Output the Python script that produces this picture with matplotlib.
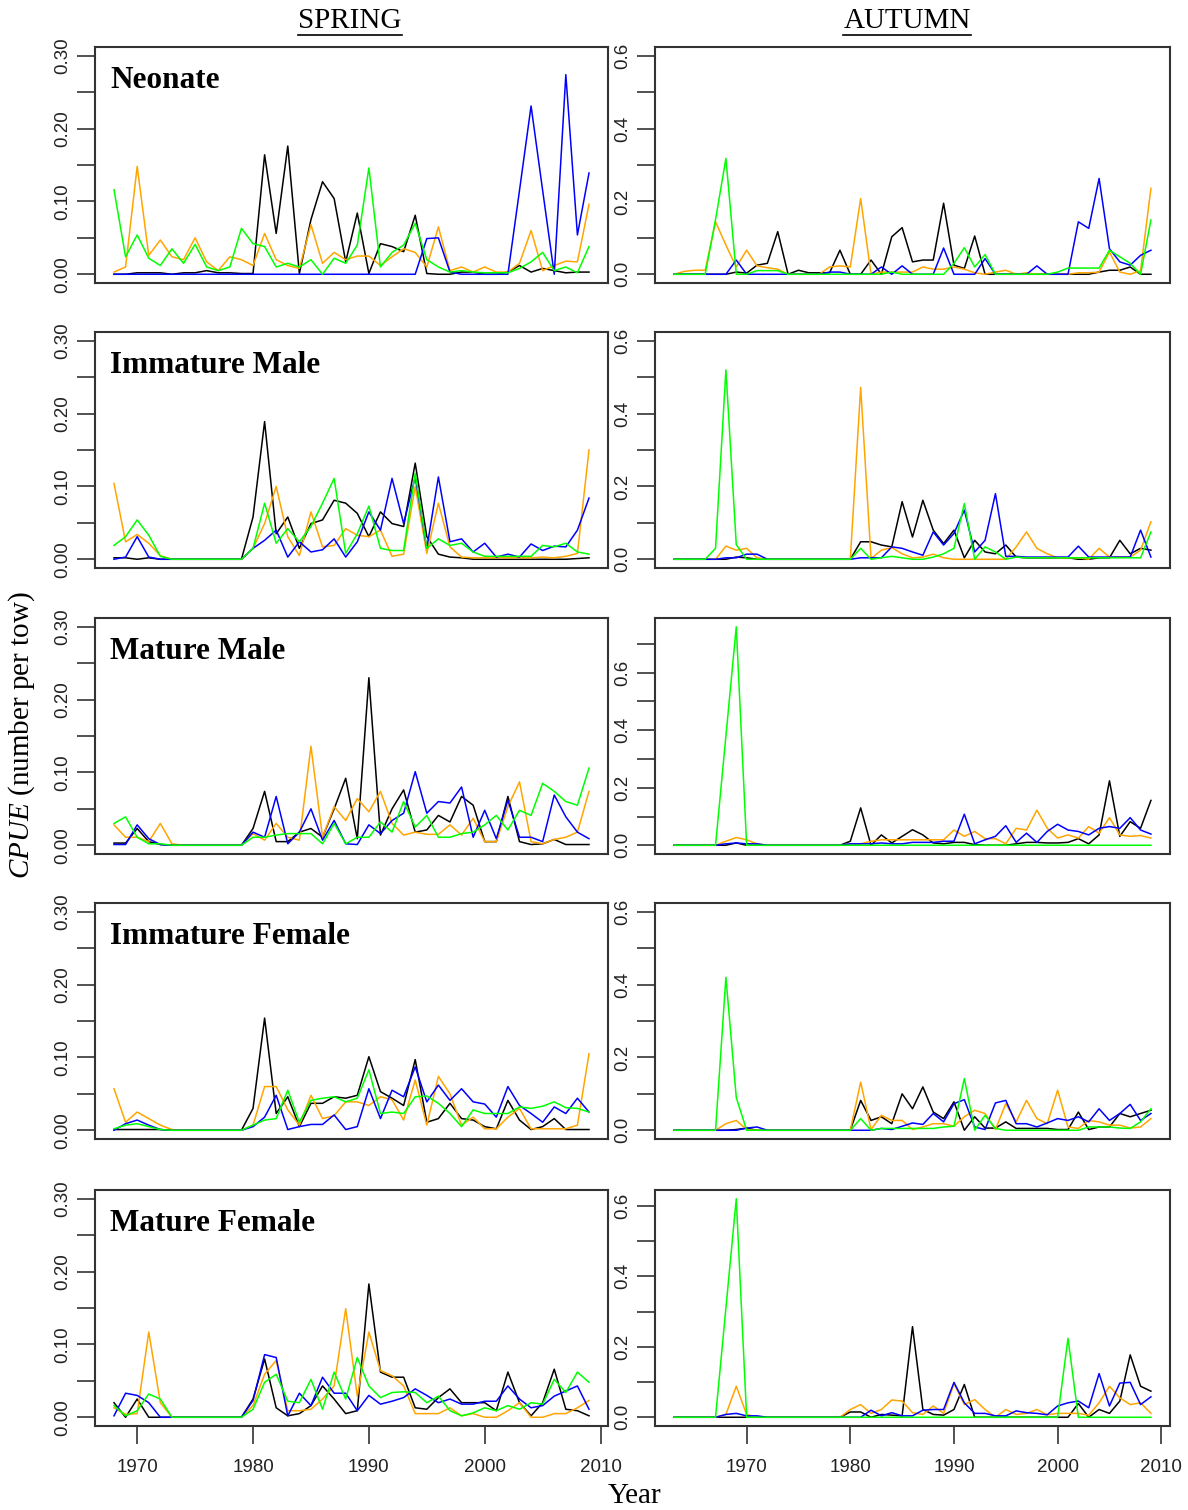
import numpy as np
import matplotlib
matplotlib.use("Agg")
import matplotlib.pyplot as plt
from matplotlib.lines import Line2D

plt.rcParams['font.family'] = ['Liberation Sans', 'DejaVu Sans']
plt.rcParams['mathtext.fontset'] = 'custom'
plt.rcParams['mathtext.it'] = 'Liberation Serif:italic'
plt.rcParams['mathtext.rm'] = 'Liberation Serif'

# survey years
spring_years = list(range(1968, 2010))
autumn_years = list(range(1963, 2010))
stages = ["Neonate", "Immature Male", "Mature Male", "Immature Female", "Mature Female"]

# ---- Neonate ----
sp_neo_black = [0, 0, .002, .002, .002, 0, .002, .002, .005, .002,
                .002, .001, .001, .164, .056, .176, .001, .075, .127, .104,
                .017, .084, .001, .042, .038, .031, .081, .001, 0, 0,
                .003, .003, 0, 0, .003, .012, .003, .008, .005, .002,
                .003, .003]
sp_neo_orange = [.003, .01, .148, .026, .047, .024, .02, .05, .017, .005,
                 .024, .02, .012, .056, .02, .012, .008, .068, .015, .03,
                 .02, .025, .025, .012, .024, .035, .03, .01, .065, .005,
                 .01, .003, .01, .003, .003, .015, .06, .005, .012, .018,
                 .017, .096]
sp_neo_blue = [0] * 26 + [0, .049, .05, .003, 0, 0, 0, 0, 0,
                          .115, .231, .115, 0, .274, .054, .139]
sp_neo_green = [.116, .024, .054, .022, .012, .035, .015, .041, .01, .005,
                .01, .063, .042, .038, .01, .015, .01, .02, 0, .022,
                .015, .04, .146, .01, .03, .04, .07, .02, .01, .003,
                .005, .003, .002, .002, .002, .008, .017, .03, .005, .01,
                .002, .038]

au_neo_black = [0, 0, 0, 0, 0, 0, .006, .003, .025, .03,
                .117, 0, .011, .004, .004, .004, .066, 0, 0, .039,
                0, .103, .128, .034, .039, .039, .195, .025, .016, .105,
                0, 0, 0, 0, 0, 0, 0, 0, 0, 0,
                0, .006, .011, .011, .02, 0, 0]
au_neo_orange = [0, .008, .011, .011, .144, .08, .02, .066, .023, .018,
                 .014, 0, 0, 0, 0, .02, .023, .02, .208, 0,
                 .006, .006, .006, .006, .02, .014, .014, .02, .014, .004,
                 0, .006, .011, 0, .004, 0, 0, 0, 0, .004,
                 .004, .006, .061, .006, 0, .01, .236]
au_neo_blue = [0, 0, 0, 0, 0, 0, .039, 0, 0, 0,
               0, 0, 0, 0, 0, .006, .006, 0, 0, 0,
               .02, 0, .023, 0, 0, 0, .072, 0, 0, 0,
               .043, 0, 0, 0, 0, .023, 0, 0, 0, .144,
               .126, .263, .07, .034, .025, .052, .066]
au_neo_green = [0, 0, 0, 0, .15, .318, 0, 0, .01, .01,
                .01, 0, 0, 0, 0, 0, 0, 0, 0, 0,
                0, .006, 0, 0, 0, 0, 0, .03, .073, .02,
                .054, 0, 0, 0, 0, 0, 0, .006, .017, .017,
                .017, .017, .066, .048, .03, 0, .149]

# ---- Immature Male ----
sp_im_black = [.002, .002, 0, .002, 0, 0, 0, 0, 0, 0,
               0, 0, .058, .189, .035, .058, .015, .049, .054, .081,
               .077, .063, .031, .065, .049, .045, .132, .031, .007, .003,
               .002, 0, 0, 0, 0, 0, 0, 0, 0, 0,
               .001, .002]
sp_im_orange = [.104, .024, .034, .022, .005, 0, 0, 0, 0, 0,
                0, 0, .015, .049, .1, .031, .005, .065, .017, .019,
                .042, .033, .031, .04, .004, .007, .1, .008, .077, .017,
                .003, .002, .002, .002, .002, .002, .002, .003, .002, .004,
                .008, .15]
sp_im_blue = [0, .003, .031, .003, 0, 0, 0, 0, 0, 0,
              0, 0, .015, .026, .04, .003, .024, .01, .013, .028,
              .003, .024, .065, .04, .111, .049, .113, .015, .113, .024,
              .028, .01, .022, .003, .007, .003, .021, .012, .018, .017,
              .04, .084]
sp_im_green = [.019, .031, .054, .033, .004, 0, 0, 0, 0, 0,
               0, 0, .015, .077, .022, .042, .024, .045, .077, .111,
               .008, .035, .073, .015, .012, .012, .118, .015, .028, .019,
               .022, .01, .004, .004, .004, .004, .004, .019, .017, .022,
               .01, .007]

au_im_black = [0, 0, 0, 0, 0, 0, .006, .004, 0, 0,
               0, 0, 0, 0, 0, 0, 0, 0, .048, .048,
               .039, .034, .158, .061, .162, .08, .043, .08, .004, .052,
               .02, .015, .039, .006, .004, .004, .004, .004, .004, 0,
               0, .004, .004, .052, .015, .03, .025]
au_im_orange = [0, 0, 0, 0, 0, .036, .025, .03, .004, 0,
                0, 0, 0, 0, 0, 0, 0, 0, .472, .002,
                .025, .032, .015, .004, .006, .014, .004, 0, 0, 0,
                0, 0, 0, .034, .075, .03, .015, .004, .004, .004,
                0, .03, .006, .006, .006, .025, .103]
au_im_blue = [0, 0, 0, 0, 0, .004, .004, .014, .014, 0,
              0, 0, 0, 0, 0, 0, 0, 0, .004, .004,
              .004, .034, .03, .02, .011, .075, .039, .071, .135, .02,
              .052, .18, .008, .008, .006, .006, .006, .006, .006, .036,
              .006, .006, .006, .006, .006, .08, .006]
au_im_green = [0, 0, 0, 0, .03, .52, .04, 0, 0, 0,
               0, 0, 0, 0, 0, 0, 0, 0, .03, 0,
               .004, .008, .004, 0, 0, .006, .015, .03, .153, 0,
               .034, .02, 0, .006, .004, .004, .004, .004, .004, .004,
               .004, .004, .004, .004, .004, .004, .075]

# ---- Mature Male ----
sp_mm_black = [.003, .003, .023, .005, .001, 0, 0, 0, 0, 0,
               0, 0, .023, .074, .005, .005, .018, .023, .011, .05,
               .092, .009, .23, .014, .05, .076, .018, .021, .041, .032,
               .067, .055, .005, .005, .067, .005, .001, .002, .008, .001,
               .001, .001]
sp_mm_orange = [.028, .011, .011, .005, .03, .002, 0, 0, 0, 0,
                0, 0, .016, .007, .03, .011, .007, .136, .011, .053,
                .034, .064, .046, .074, .03, .014, .018, .015, .015, .028,
                .014, .037, .005, .005, .053, .087, .005, .002, .008, .011,
                .018, .074]
sp_mm_blue = [.001, .001, .028, .009, .001, 0, 0, 0, 0, 0,
              0, 0, .018, .011, .067, .002, .018, .05, .007, .034,
              .002, .001, .028, .016, .034, .044, .101, .044, .06, .058,
              .08, .011, .048, .009, .062, .011, .011, .005, .069, .039,
              .018, .009]
sp_mm_green = [.03, .039, .011, .002, .002, 0, 0, 0, 0, 0,
               0, 0, .011, .011, .014, .016, .016, .016, .002, .03,
               .002, .011, .011, .032, .018, .06, .025, .041, .011, .011,
               .016, .018, .028, .041, .021, .048, .041, .085, .074, .06,
               .055, .106]

au_mm_black = [0, 0, 0, 0, 0, 0, .008, 0, 0, 0,
               0, 0, 0, 0, 0, 0, 0, .014, .13, 0,
               .036, .008, .031, .054, .036, .008, .005, .01, .01, .002,
               0, 0, 0, .005, .01, .01, .008, .008, .01, .023,
               .005, .036, .224, .031, .082, .059, .156]
au_mm_orange = [0, 0, 0, 0, 0, .014, .027, .019, .005, 0,
                0, 0, 0, 0, 0, 0, 0, .005, .005, .014,
                .019, .019, .019, .019, .019, .019, .019, .053, .031, .048,
                .023, .023, .005, .059, .053, .122, .059, .025, .036, .025,
                .065, .042, .096, .036, .031, .034, .025]
au_mm_blue = [0, 0, 0, 0, 0, .005, .008, .005, .005, 0,
              0, 0, 0, 0, 0, 0, 0, .005, .005, .005,
              .008, .005, .005, .01, .01, .01, .014, .014, .108, .005,
              .019, .031, .068, .01, .042, .01, .048, .073, .053, .048,
              .036, .059, .065, .059, .096, .053, .039]
au_mm_green = [0, 0, 0, 0, 0, .38, .76] + [0] * 40

# ---- Immature Female ----
sp_if_black = [.001, .001, .001, .001, .001, 0, 0, 0, 0, 0,
               0, 0, .03, .154, .023, .046, .005, .037, .037, .046,
               .044, .048, .101, .053, .044, .034, .097, .011, .016, .037,
               .016, .014, .005, .002, .041, .014, .001, .005, .016, .001,
               .001, .001]
sp_if_orange = [.057, .011, .025, .016, .007, .001, 0, 0, 0, 0,
                0, 0, .007, .06, .06, .028, .007, .048, .016, .02,
                .039, .039, .034, .046, .042, .014, .069, .007, .074, .05,
                .007, .018, .002, .002, .018, .03, .002, .002, .002, .002,
                .007, .105]
sp_if_blue = [0, .009, .014, .007, .001, 0, 0, 0, 0, 0,
              0, 0, .005, .018, .048, .001, .005, .008, .008, .021,
              .001, .005, .057, .016, .055, .046, .087, .039, .062, .041,
              .057, .039, .036, .018, .06, .034, .023, .011, .032, .023,
              .044, .025]
sp_if_green = [.002, .007, .009, .005, .001, 0, 0, 0, 0, 0,
               0, 0, .007, .014, .016, .055, .011, .041, .044, .046,
               .039, .044, .083, .023, .025, .023, .046, .047, .037, .023,
               .005, .028, .023, .023, .023, .032, .03, .033, .039, .031,
               .03, .025]

au_if_black = [0, 0, 0, 0, 0, 0, .002, .006, 0, 0,
               0, 0, 0, 0, 0, 0, 0, 0, .082, .027,
               .037, .018, .1, .059, .119, .05, .032, .078, 0, .037,
               .006, .006, .023, .005, .005, .005, .005, .002, .002, .05,
               .002, .009, .009, .046, .037, .046, .055]
au_if_orange = [0, 0, 0, 0, 0, .018, .027, .002, 0, 0,
                0, 0, 0, 0, 0, 0, 0, 0, .132, .002,
                .041, .027, .027, .002, .009, .018, .018, .011, .037, .055,
                .046, .002, .073, .023, .082, .032, .018, .11, .009, .005,
                .027, .023, .014, .014, .006, .009, .032]
au_if_blue = [0, 0, 0, 0, 0, 0, 0, .006, .009, 0,
              0, 0, 0, 0, 0, 0, 0, 0, 0, 0,
              .005, .002, .011, .02, .016, .046, .023, .073, .084, .009,
              .002, .075, .082, .018, .018, .009, .02, .032, .027, .037,
              .023, .059, .027, .046, .071, .027, .046]
au_if_green = [0, 0, 0, 0, 0, .42, .09, 0, 0, 0,
               0, 0, 0, 0, 0, 0, 0, 0, .032, 0,
               .005, .005, .005, .005, .005, .005, .009, .011, .142, 0,
               .041, .005, 0, 0, 0, 0, 0, 0, 0, 0,
               .009, .009, .009, .006, .005, .023, .059]

# ---- Mature Female ----
sp_mf_black = [.02, 0, .025, 0, 0, 0, 0, 0, 0, 0,
               0, 0, .025, .08, .013, .002, .005, .016, .043, .025,
               .005, .009, .183, .062, .055, .055, .013, .011, .027, .039,
               .02, .02, .02, .009, .062, .02, .002, .02, .066, .011,
               .009, .002]
sp_mf_orange = [.013, .004, .005, .117, .02, 0, 0, 0, 0, 0,
                0, 0, .016, .059, .078, .009, .009, .011, .025, .043,
                .149, .029, .117, .064, .057, .043, .005, .005, .005, .013,
                .002, .005, 0, 0, .009, .02, 0, 0, .005, .005,
                .013, .023]
sp_mf_blue = [.002, .033, .03, .02, 0, 0, 0, 0, 0, 0,
              0, 0, .023, .086, .082, .002, .033, .016, .055, .033,
              .033, .009, .03, .018, .022, .027, .039, .03, .02, .025,
              .018, .018, .022, .022, .043, .025, .013, .016, .029, .036,
              .043, .011]
sp_mf_green = [.016, .002, .009, .032, .025, 0, 0, 0, 0, 0,
               0, 0, .011, .048, .059, .022, .02, .052, .011, .062,
               .025, .082, .043, .027, .034, .035, .034, .02, .029, .009,
               .002, .006, .013, .009, .016, .011, .02, .018, .052, .034,
               .062, .048]

au_mf_black = [0, 0, 0, 0, 0, 0, 0, 0, 0, 0,
               0, 0, 0, 0, 0, 0, 0, .015, .015, 0,
               .008, .006, .004, .257, .022, .008, .006, .022, .093, 0,
               0, 0, 0, 0, 0, 0, 0, 0, 0, .039,
               0, .022, .011, .046, .177, .088, .074]
au_mf_orange = [0, 0, 0, 0, 0, .008, .088, .008, 0, 0,
                0, 0, 0, 0, 0, 0, 0, .022, .036, .011,
                .022, .049, .046, .013, .008, .032, .011, .095, .036, .05,
                .022, 0, .022, .008, .011, .022, .007, .011, .011, .011,
                .006, .041, .088, .055, .036, .041, .011]
au_mf_blue = [0, 0, 0, 0, 0, .008, .011, .004, .004, 0,
              0, 0, 0, 0, 0, 0, 0, 0, 0, .02,
              .004, .013, .004, .004, .02, .022, .022, .099, .041, .011,
              .011, .004, .004, .018, .013, .011, .007, .032, .041, .046,
              .027, .124, .032, .097, .099, .036, .058]
au_mf_green = [0, 0, 0, 0, 0, .31, .62, 0, 0, 0] + [0] * 28 + [.224, 0] + [0] * 7

spring_data = [
    (sp_neo_black, sp_neo_orange, sp_neo_blue, sp_neo_green),
    (sp_im_black, sp_im_orange, sp_im_blue, sp_im_green),
    (sp_mm_black, sp_mm_orange, sp_mm_blue, sp_mm_green),
    (sp_if_black, sp_if_orange, sp_if_blue, sp_if_green),
    (sp_mf_black, sp_mf_orange, sp_mf_blue, sp_mf_green),
]
autumn_data = [
    (au_neo_black, au_neo_orange, au_neo_blue, au_neo_green),
    (au_im_black, au_im_orange, au_im_blue, au_im_green),
    (au_mm_black, au_mm_orange, au_mm_blue, au_mm_green),
    (au_if_black, au_if_orange, au_if_blue, au_if_green),
    (au_mf_black, au_mf_orange, au_mf_blue, au_mf_green),
]
line_colors = ["#000000", "#FFA500", "#0000FF", "#00FF00"]

W, H = 1188, 1510
col_left = [95, 655]
col_width = [513, 515]
row_top = [47, 332, 618, 903, 1190]
row_height = 236
frame_col = "#333333"


def fmt(v, nd):
    return ("%." + str(nd) + "f") % v


# one panel: four coloured series, R-like 4% axis padding
def draw_panel(ax, years, series, spring, bottom):
    for vals, c in zip(series, line_colors):
        assert len(vals) == len(years)
        ax.plot(years, vals, color=c, lw=1.1)
    pad = 0.04 * (years[-1] - years[0])
    ax.set_xlim(years[0] - pad, years[-1] + pad)
    if spring:
        ymax = 0.3
        ticks = np.arange(0, 0.301, 0.05)
        labels = [fmt(t, 2) if i % 2 == 0 else "" for i, t in enumerate(ticks)]
    else:
        ymax = max(0.6, max(max(s) for s in series))
        ticks = np.arange(0, ymax + 1e-9, 0.1)
        labels = [fmt(t, 1) if i % 2 == 0 else "" for i, t in enumerate(ticks)]
    ax.set_ylim(-0.04 * ymax, 1.04 * ymax)
    ax.set_yticks(ticks)
    ax.set_yticklabels(labels, rotation=90, va="center")
    if bottom:
        ax.set_xticks([1970, 1980, 1990, 2000, 2010])
    else:
        ax.set_xticks([])
    ax.tick_params(axis="y", direction="out", length=13, width=1.2, color=frame_col,
                   labelsize=13.5, labelcolor="#222222", pad=4)
    ax.tick_params(axis="x", direction="out", length=13, width=1.2, color=frame_col,
                   labelsize=13.5, labelcolor="#222222", pad=11)
    for sp in ax.spines.values():
        sp.set_linewidth(1.5)
        sp.set_color(frame_col)


fig = plt.figure(figsize=(W / 100, H / 100), dpi=100)

for r in range(5):
    for c in range(2):
        rect = [col_left[c] / W, 1 - (row_top[r] + row_height) / H,
                col_width[c] / W, row_height / H]
        ax = fig.add_axes(rect)
        if c == 0:
            draw_panel(ax, spring_years, spring_data[r], True, r == 4)
            ax.text(0.03, 0.825, stages[r], transform=ax.transAxes,
                    fontsize=22.5, fontweight="bold", family="Liberation Serif",
                    va="baseline", ha="left")
        else:
            draw_panel(ax, autumn_years, autumn_data[r], False, r == 4)

# column headers, underlined like the original
heads = []
for label, xc in [("SPRING", 350), ("AUTUMN", 907)]:
    t = fig.text(xc / W, 1 - 28 / H, label, family="Liberation Serif",
                 fontsize=21, ha="center", va="baseline")
    heads.append(t)

fig.text(22 / W, 1 - 735 / H, r"$CPUE$ (number per tow)", rotation=90,
         family="Liberation Serif", fontsize=21, ha="center", va="center")
fig.text(635 / W, 1 - 1503 / H, "Year", family="Liberation Serif",
         fontsize=21, ha="center", va="baseline")

fig.canvas.draw()
renderer = fig.canvas.get_renderer()
for t in heads:
    bb = t.get_window_extent(renderer)
    y = (bb.y0 - 1) / H
    fig.add_artist(Line2D([bb.x0 / W, bb.x1 / W], [y, y], color="black", lw=1.2))

fig.savefig("out.png", dpi=100)
